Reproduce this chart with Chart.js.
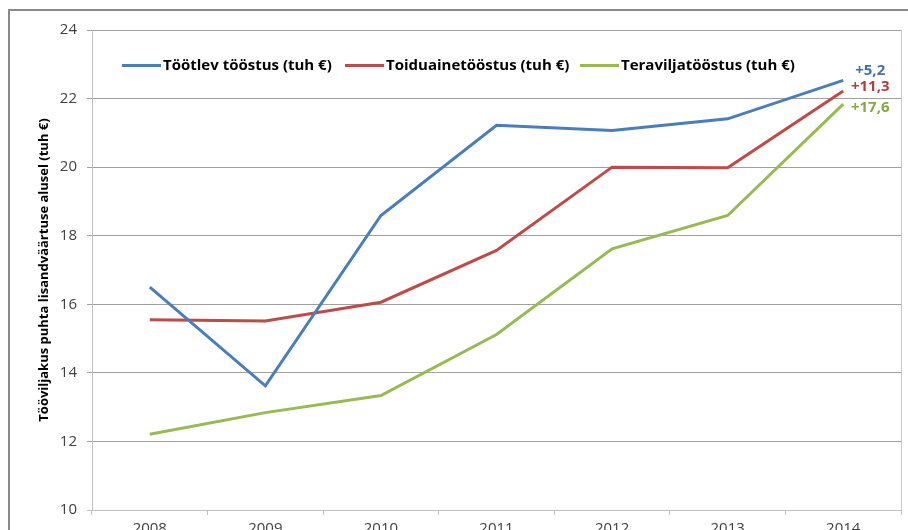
<!DOCTYPE html>
<html>
<head>
<meta charset="utf-8">
<script src="https://cdn.jsdelivr.net/npm/chart.js@4.4.1/dist/chart.umd.min.js"></script>
<style>
    html, body { margin: 0; padding: 0; background: #ffffff; overflow: hidden; }
    #wrap { width: 908px; height: 530px; overflow: hidden; }
</style>
</head>
<body>
<div id="wrap"><canvas id="tootlikkusGraafik" width="908" height="550"></canvas></div>
<script>
const aastad = ['2008', '2009', '2010', '2011', '2012', '2013', '2014'];
const tootlevToostus = [16.50, 13.62, 18.59, 21.22, 21.07, 21.41, 22.53];
const toiduaineToostus = [15.55, 15.51, 16.06, 17.57, 20.00, 19.98, 22.22];
const teraviljaToostus = [12.21, 12.84, 13.34, 15.12, 17.62, 18.59, 21.84];
const seeriaNimed = ['Töötlev tööstus (tuh €)', 'Toiduainetööstus (tuh €)', 'Teraviljatööstus (tuh €)'];
const muutused = ['+5,2', '+11,3', '+17,6'];
const yTelgTicks = [10, 12, 14, 16, 18, 20, 22, 24];
const yTelgNimi = 'Tööviljakus puhta lisandväärtuse alusel (tuh €)';

const joonVarvid = ['#4a7ebb', '#be4b48', '#98b954'];
const tekstVarvid = ['#4470a8', '#b0403c', '#86a844'];
const fontPere = '"Open Sans", "Noto Sans", sans-serif';

// legend, border, axis title and end labels drawn by hand
const lisaJoonised = {
    id: 'lisaJoonised',
    afterDraw: function (chart) {
        const ctx = chart.ctx;
        const area = chart.chartArea;
        ctx.save();

        // outer frame
        ctx.strokeStyle = '#8a8a8a';
        ctx.lineWidth = 2;
        ctx.beginPath();
        ctx.moveTo(9, 560);
        ctx.lineTo(9, 10);
        ctx.lineTo(910, 10);
        ctx.stroke();

        // right edge of plot
        ctx.strokeStyle = '#c8c8c8';
        ctx.lineWidth = 1;
        ctx.beginPath();
        ctx.moveTo(area.right + 0.5, area.top);
        ctx.lineTo(area.right + 0.5, area.bottom);
        ctx.stroke();

        // y axis title
        ctx.fillStyle = '#000000';
        ctx.font = 'bold 13px ' + fontPere;
        ctx.textAlign = 'center';
        ctx.textBaseline = 'middle';
        ctx.translate(44, (area.top + area.bottom) / 2);
        ctx.rotate(-Math.PI / 2);
        ctx.fillText(yTelgNimi, 0, 0);
        ctx.setTransform(1, 0, 0, 1, 0, 0);

        // legend
        const legendStart = [122, 345, 580];
        ctx.font = 'bold 15px ' + fontPere;
        ctx.textAlign = 'left';
        ctx.textBaseline = 'middle';
        seeriaNimed.forEach(function (nimi, i) {
            const x = legendStart[i];
            ctx.strokeStyle = joonVarvid[i];
            ctx.lineWidth = 3;
            ctx.beginPath();
            ctx.moveTo(x, 65.5);
            ctx.lineTo(x + 39, 65.5);
            ctx.stroke();
            ctx.fillStyle = '#000000';
            ctx.fillText(nimi, x + 41, 65.5);
        });

        // change labels next to last points
        const nihked = [-10, -4, 4];
        ctx.font = 'bold 15px ' + fontPere;
        ctx.textAlign = 'center';
        chart.data.datasets.forEach(function (ds, i) {
            const meta = chart.getDatasetMeta(i);
            const punkt = meta.data[meta.data.length - 1];
            ctx.fillStyle = tekstVarvid[i];
            ctx.fillText(muutused[i], punkt.x + 27, punkt.y + nihked[i]);
        });

        ctx.restore();
    }
};

Chart.defaults.font.family = fontPere;
Chart.defaults.font.size = 15;
Chart.defaults.color = '#404040';

new Chart(document.getElementById('tootlikkusGraafik').getContext('2d'), {
    type: 'line',
    data: {
        labels: aastad,
        datasets: [
            { label: seeriaNimed[0], data: tootlevToostus, borderColor: joonVarvid[0] },
            { label: seeriaNimed[1], data: toiduaineToostus, borderColor: joonVarvid[1] },
            { label: seeriaNimed[2], data: teraviljaToostus, borderColor: joonVarvid[2] }
        ].map(function (ds) {
            ds.borderWidth = 3;
            ds.pointRadius = 0;
            ds.tension = 0;
            ds.fill = false;
            return ds;
        })
    },
    options: {
        responsive: false,
        animation: false,
        layout: {
            padding: { left: 0, top: 30, right: 7, bottom: 0 }
        },
        plugins: {
            legend: { display: false },
            tooltip: { enabled: false }
        },
        scales: {
            x: {
                offset: true,
                afterFit: function (scale) { scale.height = 40; },
                border: { color: '#c0c0c0' },
                grid: {
                    offset: true,
                    drawOnChartArea: false,
                    drawTicks: true,
                    tickLength: 5,
                    color: '#c0c0c0'
                },
                ticks: { padding: 5, maxRotation: 0 }
            },
            y: {
                min: 10,
                max: 24,
                afterFit: function (scale) { scale.width = 92; },
                afterBuildTicks: function (scale) {
                    scale.ticks = yTelgTicks.map(function (v) { return { value: v }; });
                },
                border: { color: '#c0c0c0' },
                grid: {
                    tickLength: 5,
                    color: function (c) { return c.tick && c.tick.value === 10 ? '#c0c0c0' : '#a0a0a0'; }
                },
                ticks: { padding: 10 }
            }
        }
    },
    plugins: [lisaJoonised]
});
</script>
</body>
</html>
